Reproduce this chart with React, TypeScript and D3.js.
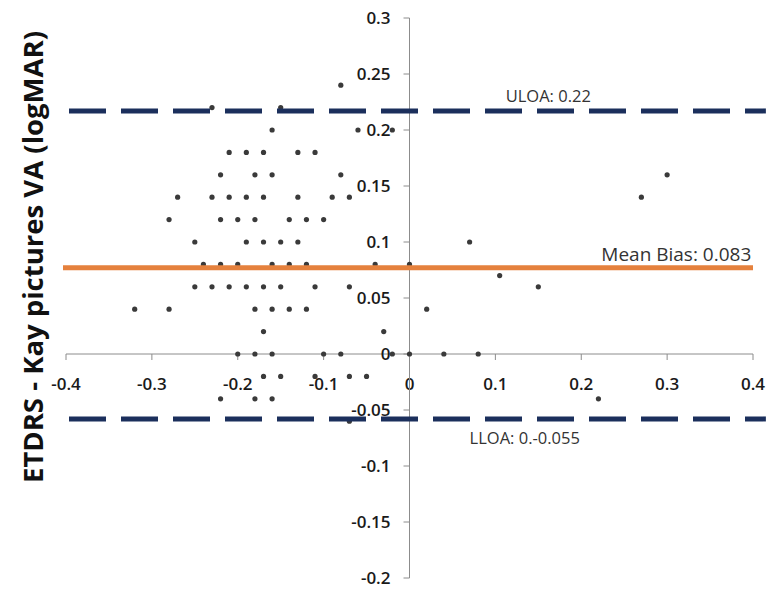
import { useEffect, useRef } from "react"
import * as d3 from "d3"

// Bland-Altman points (mean on x, difference on y), read row by row
const pointX = [
  -0.08,
  -0.23, -0.15,
  -0.16, -0.06, -0.02,
  -0.21, -0.19, -0.17, -0.13, -0.11,
  -0.22, -0.18, -0.16, -0.08, 0.3,
  -0.27, -0.23, -0.21, -0.19, -0.17, -0.13, -0.09, -0.07, 0.27,
  -0.28, -0.22, -0.2, -0.18, -0.14, -0.12, -0.1,
  -0.25, -0.19, -0.17, -0.15, -0.13, 0.07,
  -0.24, -0.22, -0.2, -0.16, -0.14, -0.12, -0.04, 0.0,
  0.105,
  -0.25, -0.23, -0.21, -0.19, -0.17, -0.15, -0.11, -0.07, 0.15,
  -0.32, -0.28, -0.18, -0.16, -0.14, -0.12, 0.02,
  -0.17, -0.03,
  -0.2, -0.18, -0.16, -0.1, -0.08, -0.02, 0.0, 0.04, 0.08,
  -0.17, -0.15, -0.11, -0.07, -0.05,
  -0.22, -0.18, -0.16, 0.22,
  -0.07,
]
const pointY = [
  0.24,
  0.22, 0.22,
  0.2, 0.2, 0.2,
  0.18, 0.18, 0.18, 0.18, 0.18,
  0.16, 0.16, 0.16, 0.16, 0.16,
  0.14, 0.14, 0.14, 0.14, 0.14, 0.14, 0.14, 0.14, 0.14,
  0.12, 0.12, 0.12, 0.12, 0.12, 0.12, 0.12,
  0.1, 0.1, 0.1, 0.1, 0.1, 0.1,
  0.08, 0.08, 0.08, 0.08, 0.08, 0.08, 0.08, 0.08,
  0.07,
  0.06, 0.06, 0.06, 0.06, 0.06, 0.06, 0.06, 0.06, 0.06,
  0.04, 0.04, 0.04, 0.04, 0.04, 0.04, 0.04,
  0.02, 0.02,
  0, 0, 0, 0, 0, 0, 0, 0, 0,
  -0.02, -0.02, -0.02, -0.02, -0.02,
  -0.04, -0.04, -0.04, -0.04,
  -0.06,
]

const meanBias = 0.077
const uloa = 0.217
const lloa = -0.058
const refLabels = ["ULOA: 0.22", "Mean Bias: 0.083", "LLOA: 0.-0.055"]

const xTicks = [-0.4, -0.3, -0.2, -0.1, 0, 0.1, 0.2, 0.3, 0.4]
const yTicks = [-0.2, -0.15, -0.1, -0.05, 0, 0.05, 0.1, 0.15, 0.2, 0.25, 0.3]
const yTitle = "ETDRS - Kay pictures VA (logMAR)"

const W = 769
const H = 592

const App = () => {
  const svgRef = useRef(null)

  useEffect(() => {
    const svg = d3.select(svgRef.current)
    svg.selectAll("*").remove()

    const x = d3.scaleLinear().domain([-0.4, 0.4]).range([66, 753])
    const y = d3.scaleLinear().domain([-0.2, 0.3]).range([578, 18])
    const fmt = (v) => String(+v.toFixed(2))
    const labelFont = "'Open Sans', sans-serif"

    // x axis through y = 0
    svg.append("line")
      .attr("x1", x(-0.4)).attr("x2", x(0.4))
      .attr("y1", y(0)).attr("y2", y(0))
      .attr("stroke", "#8c8c8c").attr("stroke-width", 1)
    xTicks.forEach((t) => {
      svg.append("line")
        .attr("x1", x(t)).attr("x2", x(t))
        .attr("y1", y(0)).attr("y2", y(0) + 6)
        .attr("stroke", "#8c8c8c")
      svg.append("text")
        .attr("x", x(t)).attr("y", y(0) + 36)
        .attr("text-anchor", "middle")
        .style("font-family", labelFont).style("font-weight", 600)
        .style("font-size", "17px").style("fill", "#1a1a1a")
        .text(fmt(t))
    })

    // y axis through x = 0
    svg.append("line")
      .attr("x1", x(0)).attr("x2", x(0))
      .attr("y1", y(0.3)).attr("y2", y(-0.2))
      .attr("stroke", "#8c8c8c").attr("stroke-width", 1)
    yTicks.forEach((t) => {
      svg.append("line")
        .attr("x1", x(0) - 6).attr("x2", x(0))
        .attr("y1", y(t)).attr("y2", y(t))
        .attr("stroke", "#8c8c8c")
      svg.append("text")
        .attr("x", x(0) - 19).attr("y", y(t))
        .attr("dy", "0.36em")
        .attr("text-anchor", "end")
        .style("font-family", labelFont).style("font-weight", 600)
        .style("font-size", "17px").style("fill", "#1a1a1a")
        .text(fmt(t))
    })

    // points
    svg.append("g")
      .selectAll("circle")
      .data(pointX.map((v, i) => [v, pointY[i]]))
      .join("circle")
      .attr("cx", (d) => x(d[0]))
      .attr("cy", (d) => y(d[1]))
      .attr("r", 2.6)
      .attr("fill", "#3a3a3a")

    // limits of agreement and mean bias
    const lineSpan = [-0.4, 0.415]
    ;[uloa, lloa].forEach((v) => {
      svg.append("line")
        .attr("x1", x(lineSpan[0]) + 3).attr("x2", x(lineSpan[1]))
        .attr("y1", y(v)).attr("y2", y(v))
        .attr("stroke", "#1b2f5c").attr("stroke-width", 5)
        .attr("stroke-dasharray", "37,15")
    })
    svg.append("line")
      .attr("x1", x(-0.4) - 3).attr("x2", x(0.4))
      .attr("y1", y(meanBias)).attr("y2", y(meanBias))
      .attr("stroke", "#e5813d").attr("stroke-width", 5)

    const annot = (txt, xv, yv, anchor, size) =>
      svg.append("text")
        .attr("x", x(xv)).attr("y", y(yv))
        .attr("text-anchor", anchor)
        .style("font-family", labelFont)
        .style("font-size", size).style("fill", "#333")
        .text(txt)
    annot(refLabels[0], 0.112, uloa, "start", "16.5px").attr("dy", -9)
    annot(refLabels[1], 0.398, meanBias, "end", "19px").attr("dy", -7)
    annot(refLabels[2], 0.07, lloa, "start", "16.5px").attr("dy", 25)

    // y axis title
    svg.append("text")
      .attr("transform", `translate(43,257) rotate(-90)`)
      .attr("text-anchor", "middle")
      .attr("textLength", 452)
      .attr("lengthAdjust", "spacingAndGlyphs")
      .style("font-family", labelFont).style("font-weight", 700)
      .style("font-size", "26px").style("fill", "#111")
      .text(yTitle)
  }, [])

  return (
    <svg
      ref={svgRef}
      width={W}
      height={H}
      style={{ position: "absolute", left: 0, top: 0, background: "#fff" }}
    ></svg>
  )
}

export default App
